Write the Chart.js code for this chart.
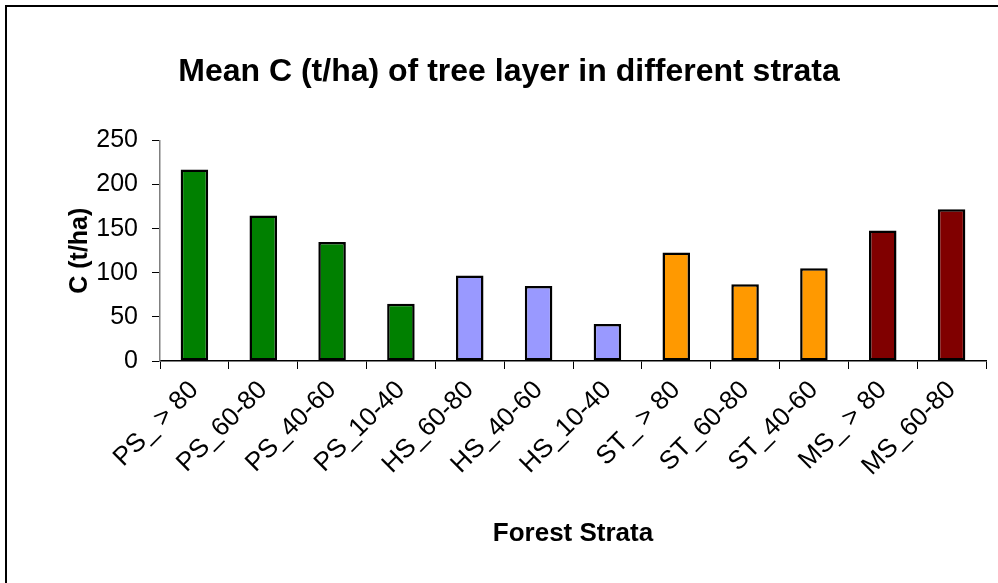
<!DOCTYPE html>
<html>
<head>
<meta charset="utf-8">
<script src="https://cdn.jsdelivr.net/npm/chart.js@4/dist/chart.umd.min.js"></script>
<style>
  body { margin: 0; background: #fff; }
  #wrap { position: relative; width: 998px; height: 583px; overflow: hidden; }
  #frame { position: absolute; left: 5px; top: 5px; width: 1100px; height: 700px; border: 2px solid #000; }
  canvas { position: absolute; left: 0; top: 0; }
</style>
</head>
<body>
<div id="wrap">
  <div id="frame"></div>
  <canvas id="chart" width="998" height="583"></canvas>
</div>
<script>
// forest strata and mean carbon of tree layer (t/ha)
var strata = ["PS_ > 80", "PS_60-80", "PS_40-60", "PS_10-40", "HS_60-80", "HS_40-60",
              "HS_10-40", "ST_ > 80", "ST_60-80", "ST_40-60", "MS_ > 80", "MS_60-80"]
var meanC = [217, 165, 135, 65, 97, 85, 42, 123, 87, 105, 148, 172]
var yTicks = [0, 50, 100, 150, 200, 250]

// colour per forest type
var typeColors = { PS: "#008000", HS: "#9999FF", ST: "#FF9900", MS: "#800000" }
var barColors = strata.map(function (s) { return typeColors[s.slice(0, 2)] })

var font = "'Liberation Sans', Arial, sans-serif"

new Chart(document.getElementById("chart"), {
    type: "bar",
    data: {
        labels: strata,
        datasets: [{
            data: meanC,
            backgroundColor: barColors,
            borderColor: "#000",
            borderWidth: 2.5,
            borderSkipped: false,
            categoryPercentage: 1,
            barPercentage: 0.4
        }]
    },
    options: {
        responsive: false,
        animation: false,
        layout: { padding: { left: 32, right: 12, top: 0, bottom: 0 } },
        plugins: {
            legend: { display: false },
            tooltip: { enabled: false },
            title: {
                display: true,
                text: "Mean C (t/ha) of tree layer in different strata",
                color: "#000",
                font: { family: font, size: 32, weight: "bold" },
                padding: { top: 53, bottom: 49 }
            }
        },
        scales: {
            x: {
                offset: true,
                border: { color: "#000", width: 1.5 },
                grid: { offset: true, drawOnChartArea: false, drawTicks: true, tickLength: 8, color: "#000" },
                ticks: {
                    color: "#000", font: { family: font, size: 26 },
                    autoSkip: false, minRotation: 45, maxRotation: 45, padding: 6
                },
                title: {
                    display: true, text: "Forest Strata", color: "#000",
                    font: { family: font, size: 26, weight: "bold" },
                    padding: { top: 0, bottom: 34 }
                },
                afterFit: function (s) { s.height = 222 }
            },
            y: {
                min: 0, max: 250,
                border: { color: "#808080", width: 1.5 },
                grid: { drawOnChartArea: false, drawTicks: true, tickLength: 8, color: "#000" },
                afterBuildTicks: function (s) { s.ticks = yTicks.map(function (v) { return { value: v } }) },
                ticks: { color: "#000", font: { family: font, size: 25 }, padding: 14 },
                title: {
                    display: true, text: "C (t/ha)", color: "#000",
                    font: { family: font, size: 25, weight: "bold" },
                    padding: { top: 33, bottom: 0 }
                },
                afterFit: function (s) { s.width = 128 }
            }
        }
    }
})
</script>
</body>
</html>
